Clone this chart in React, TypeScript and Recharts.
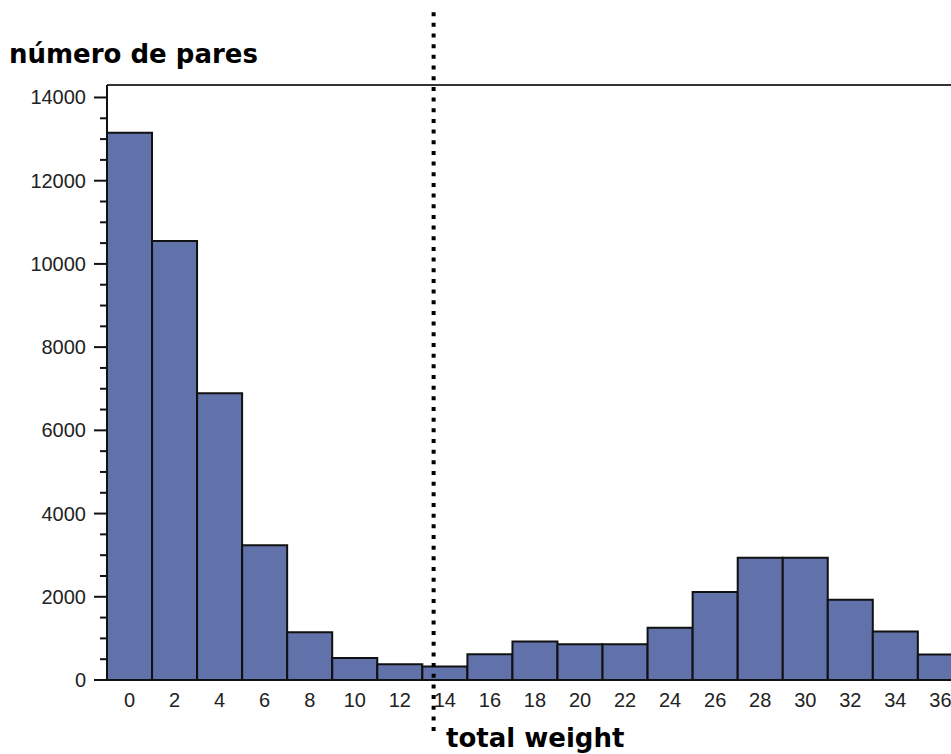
import React from 'react';
import { BarChart, Bar, XAxis, YAxis, ReferenceLine } from 'recharts';

// bin start (total weight) and pair counts
const WEIGHTS = [0, 2, 4, 6, 8, 10, 12, 14, 16, 18, 20, 22, 24, 26, 28, 30, 32, 34, 36];
const PAIRS = [13150, 10550, 6890, 3240, 1150, 530, 380, 325, 620, 925, 860, 860, 1255, 2115, 2940, 2940, 1930, 1165, 615];

const X_TICKS = [0, 2, 4, 6, 8, 10, 12, 14, 16, 18, 20, 22, 24, 26, 28, 30, 32, 34, 36];
const Y_TICKS = Array.from({ length: 29 }, (_, i) => i * 500);
const Y_MAX = 14300;

// dotted cut-off line, runs past the frame on both ends
const CUTOFF = 13.5;
const CUTOFF_SPAN = [-1250, 16050];

const data = WEIGHTS.map((w, i) => ({ w, n: PAIRS[i] }));

const TICK_FONT = '"Liberation Sans", Arial, sans-serif';
const TITLE_FONT = '"DejaVu Sans", Verdana, sans-serif';

const YTick = (props: any) => {
  const { x, y, payload } = props;
  const major = payload.value % 2000 === 0;
  return (
    <g>
      <line x1={x - (major ? 13 : 7)} x2={x} y1={y} y2={y} stroke="#111" strokeWidth={2} />
      {major && (
        <text x={x - 21} y={y} dy={7} textAnchor="end" fontSize={20} fill="#222" fontFamily={TICK_FONT}>
          {payload.value}
        </text>
      )}
    </g>
  );
};

const XTick = (props: any) => {
  const { x, y, payload } = props;
  return (
    <text x={x} y={y + 27} textAnchor="middle" fontSize={20} fill="#222" fontFamily={TICK_FONT}>
      {payload.value}
    </text>
  );
};

export default function App() {
  return (
    <div style={{ position: 'fixed', left: 0, top: 0, width: 951, height: 754, overflow: 'hidden', background: '#fff' }}>
      <BarChart width={1030} height={754} data={data} margin={{ top: 85, right: 22, bottom: 0, left: 0 }} barCategoryGap={0}>
        <XAxis
          type="number"
          dataKey="w"
          domain={[-1, 39]}
          ticks={X_TICKS}
          interval={0}
          allowDataOverflow
          tickLine={false}
          tickSize={0}
          tickMargin={0}
          height={74}
          axisLine={{ stroke: '#111', strokeWidth: 2 }}
          tick={<XTick />}
          label={{
            content: () => (
              <text x={446} y={747} fontSize={26} fontWeight="bold" fill="#000" fontFamily={TITLE_FONT}>
                total weight
              </text>
            ),
          }}
        />
        <YAxis
          type="number"
          domain={[0, Y_MAX]}
          ticks={Y_TICKS}
          interval={0}
          allowDataOverflow
          width={107}
          tickLine={false}
          tickSize={0}
          tickMargin={0}
          axisLine={{ stroke: '#111', strokeWidth: 2 }}
          tick={<YTick />}
          label={{
            content: () => (
              <text x={9} y={63} fontSize={26} fontWeight="bold" fill="#000" fontFamily={TITLE_FONT}>
                número de pares
              </text>
            ),
          }}
        />
        <ReferenceLine y={Y_MAX} stroke="#333" strokeWidth={2} />
        <Bar dataKey="n" fill="#6171aa" stroke="#111" strokeWidth={2} barSize={45} isAnimationActive={false} />
        <ReferenceLine
          segment={[{ x: CUTOFF, y: CUTOFF_SPAN[1] }, { x: CUTOFF, y: CUTOFF_SPAN[0] }]}
          ifOverflow="visible"
          stroke="#000"
          strokeWidth={4}
          strokeDasharray="4 6.67"
        />
      </BarChart>
    </div>
  );
}
